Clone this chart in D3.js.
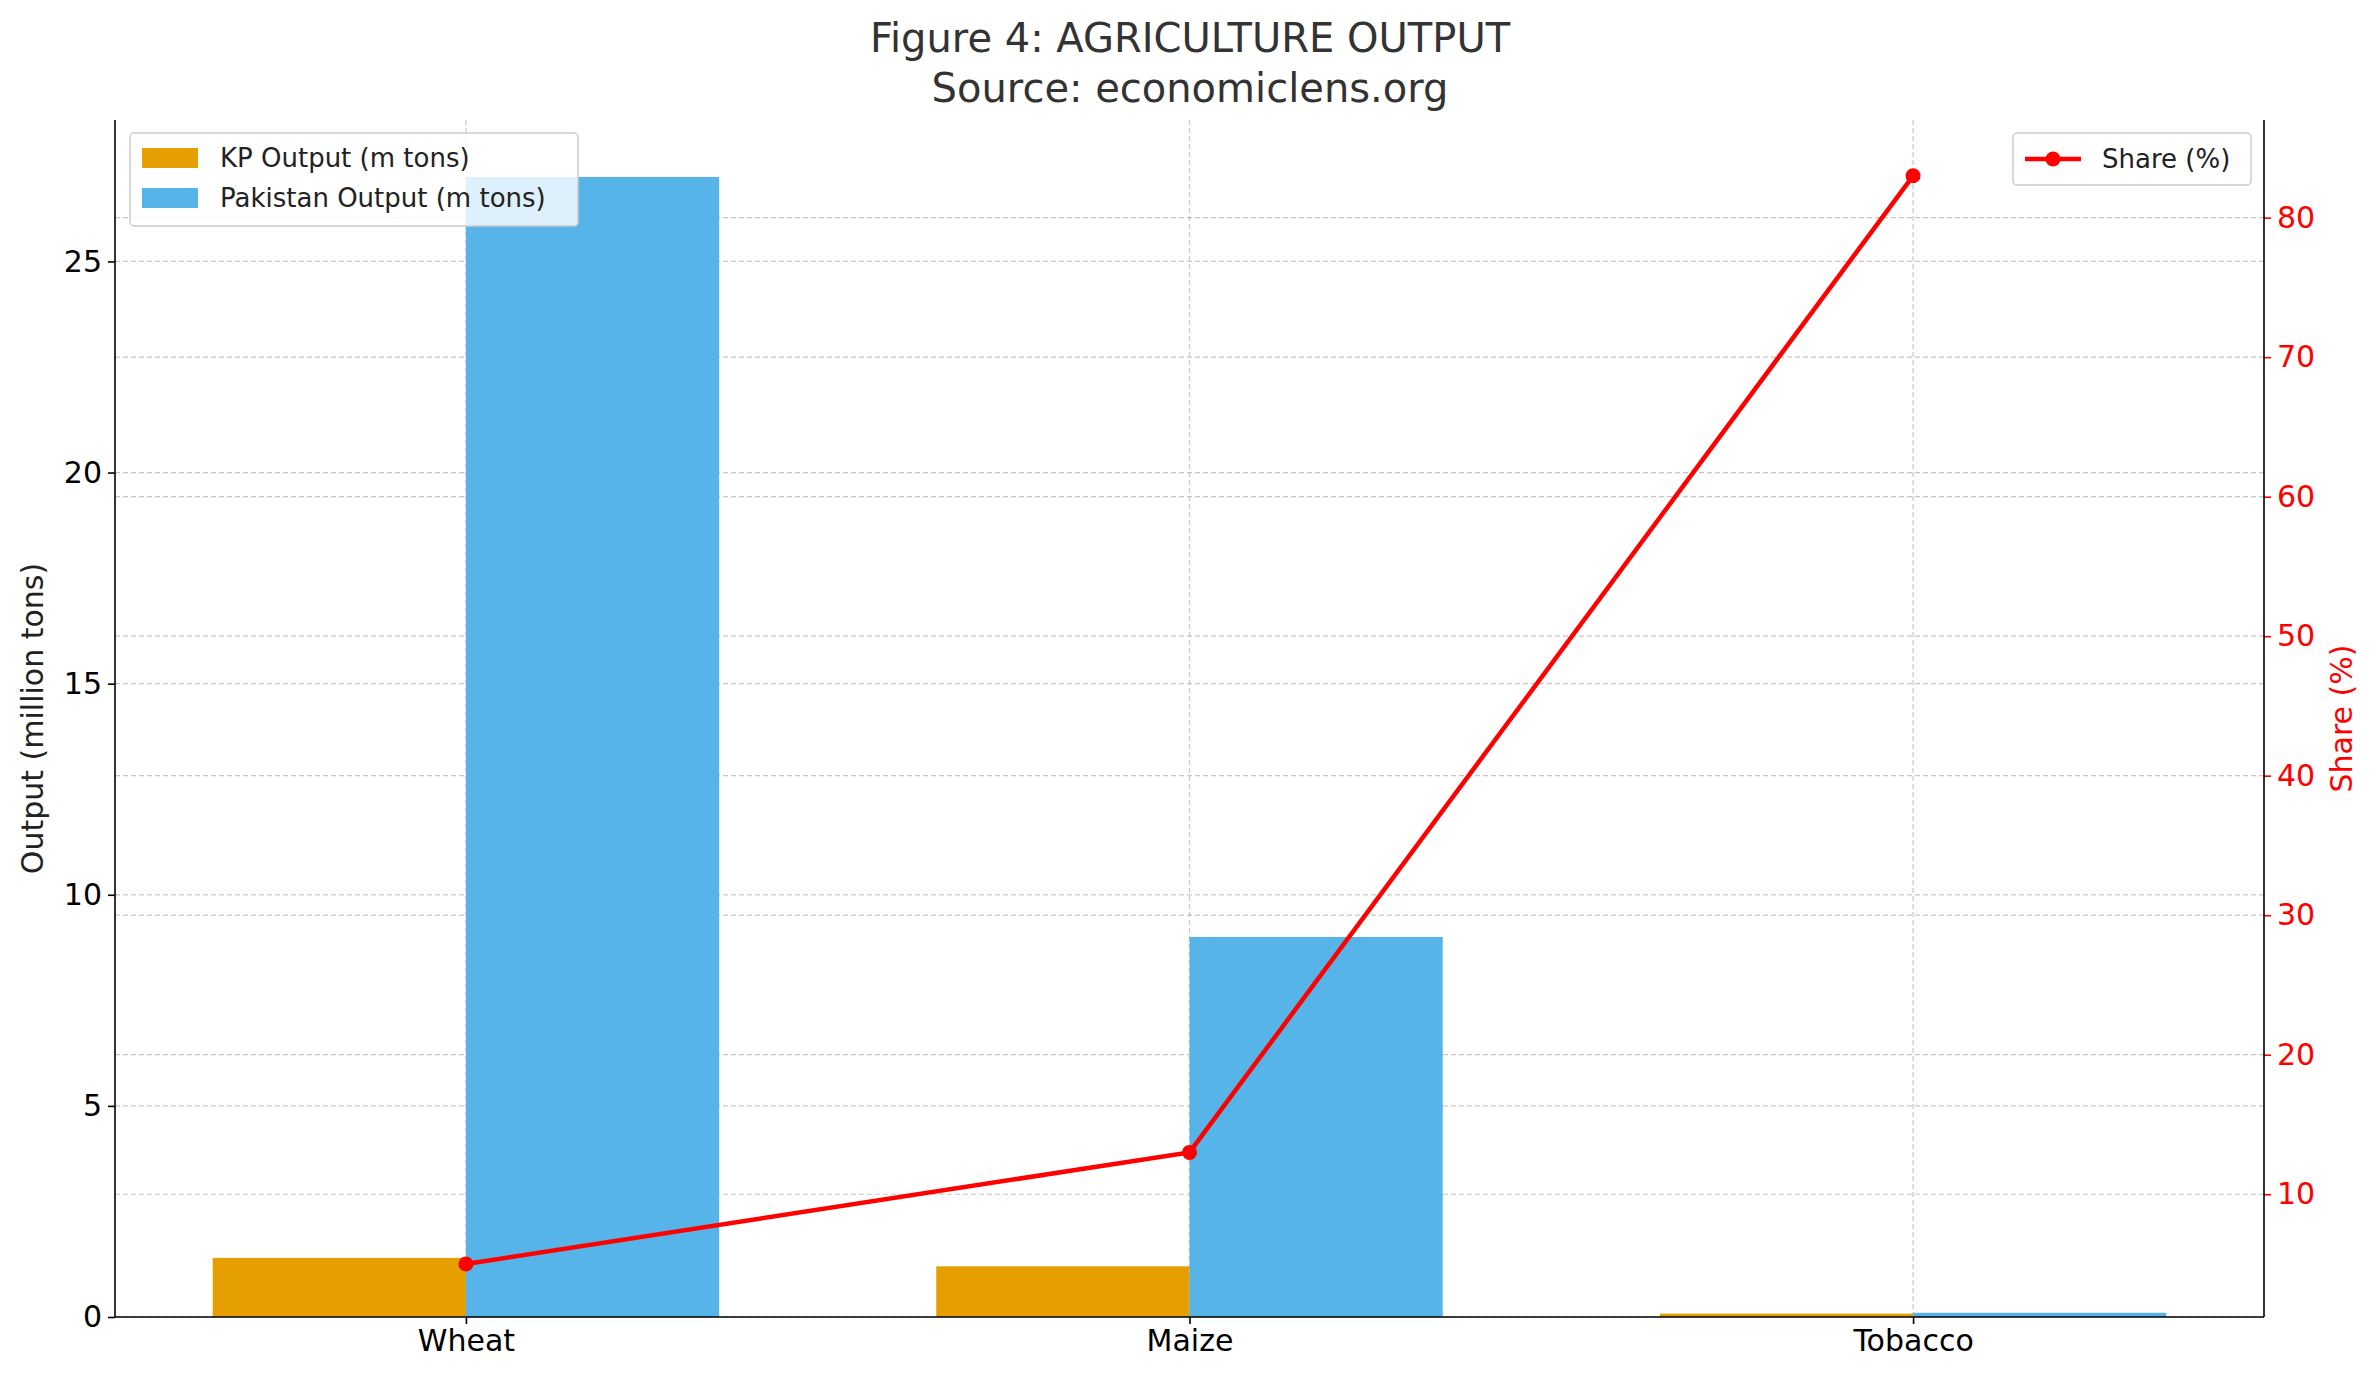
<!DOCTYPE html>
<html><head><meta charset="utf-8">
<script src="https://cdn.jsdelivr.net/npm/d3@7/dist/d3.min.js"></script>
<style>body{margin:0;background:#fff}text{font-family:"DejaVu Sans",sans-serif}</style>
</head><body><svg id="c" width="2379" height="1380"></svg>
<script>
const categories=["Wheat","Maize","Tobacco"];
const kpOutput=[1.4,1.2,0.08];
const pakOutput=[27,9,0.1];
const share=[5,13,83];
const leftTicks=[0,5,10,15,20,25];
const rightTicks=[10,20,30,40,50,60,70,80];

const svg=d3.select("#c");
const L=115,R=2264,T=120,B=1317;
const x=d3.scaleLinear().domain([-0.485,2.485]).range([L,R]);
const y=d3.scaleLinear().domain([0,28.35]).range([B,T]);
const y2=d3.scaleLinear().domain([1.2,87]).range([B,T]);
const bw=x(0.35)-x(0);
const red="#ff0000";

const g=svg.append("g");
// grids
g.selectAll(".gx").data(categories).join("line").attr("x1",(d,i)=>x(i)).attr("x2",(d,i)=>x(i)).attr("y1",T).attr("y2",B)
 .attr("stroke","#b0b0b0").attr("stroke-width",1.2).attr("stroke-dasharray","5,3").attr("opacity",0.7);
g.selectAll(".gy").data(leftTicks).join("line").attr("x1",L).attr("x2",R).attr("y1",d=>y(d)).attr("y2",d=>y(d))
 .attr("stroke","#b0b0b0").attr("stroke-width",1.2).attr("stroke-dasharray","5,3").attr("opacity",0.7);
g.selectAll(".gy2").data(rightTicks).join("line").attr("x1",L).attr("x2",R).attr("y1",d=>y2(d)).attr("y2",d=>y2(d))
 .attr("stroke","#b0b0b0").attr("stroke-width",1.2).attr("stroke-dasharray","5,3").attr("opacity",0.7);

// bars
g.selectAll(".kp").data(kpOutput).join("rect").attr("x",(d,i)=>x(i)-bw).attr("width",bw)
 .attr("y",d=>y(d)).attr("height",d=>B-y(d)).attr("fill","#E69F00");
g.selectAll(".pk").data(pakOutput).join("rect").attr("x",(d,i)=>x(i)).attr("width",bw)
 .attr("y",d=>y(d)).attr("height",d=>B-y(d)).attr("fill","#56B4E9");

// line
const line=d3.line().x((d,i)=>x(i)).y(d=>y2(d));
g.append("path").datum(share).attr("d",line).attr("fill","none").attr("stroke",red).attr("stroke-width",4.5);
g.selectAll(".pt").data(share).join("circle").attr("cx",(d,i)=>x(i)).attr("cy",d=>y2(d)).attr("r",7.5).attr("fill",red);

// axes
const fs=30;
const ax=svg.append("g").attr("transform",`translate(0,${B})`)
 .call(d3.axisBottom(d3.scaleLinear().domain(x.domain()).range(x.range())).tickValues([0,1,2]).tickFormat(i=>categories[i]).tickSize(7).tickPadding(6));
const ay=svg.append("g").attr("transform",`translate(${L},0)`).call(d3.axisLeft(y).tickValues(leftTicks).tickSize(7).tickPadding(6));
const ay2=svg.append("g").attr("transform",`translate(${R},0)`).call(d3.axisRight(y2).tickValues(rightTicks).tickSize(7).tickPadding(6));
[ax,ay,ay2].forEach(a=>{a.selectAll("text").attr("font-size",fs).attr("font-family","DejaVu Sans");a.select(".domain").remove();a.selectAll("line").attr("stroke-width",1.6);});
ay2.selectAll("text").attr("fill",red);ay2.selectAll("line").attr("stroke",red);
svg.append("line").attr("x1",L).attr("x2",L).attr("y1",T).attr("y2",B).attr("stroke","#000").attr("stroke-width",1.6);
svg.append("line").attr("x1",L).attr("x2",R).attr("y1",B).attr("y2",B).attr("stroke","#000").attr("stroke-width",1.6);
svg.append("line").attr("x1",R).attr("x2",R).attr("y1",T).attr("y2",B).attr("stroke","#000").attr("stroke-width",1.6);

// labels
svg.append("text").attr("transform",`translate(43,${(T+B)/2}) rotate(-90)`).attr("text-anchor","middle").attr("font-size",fs).attr("fill","#222").text("Output (million tons)");
svg.append("text").attr("transform",`translate(2352,${(T+B)/2}) rotate(-90)`).attr("text-anchor","middle").attr("font-size",fs).attr("fill",red).text("Share (%)");
svg.append("text").attr("x",1190).attr("y",52).attr("text-anchor","middle").attr("font-size",40).attr("fill","#333").text("Figure 4: AGRICULTURE OUTPUT");
svg.append("text").attr("x",1190).attr("y",102).attr("text-anchor","middle").attr("font-size",40).attr("fill","#333").text("Source: economiclens.org");

// legends
const lg=svg.append("g");
lg.append("rect").attr("x",130).attr("y",133).attr("width",448).attr("height",93).attr("rx",4).attr("fill","#fff").attr("fill-opacity",0.8).attr("stroke","#ccc").attr("stroke-width",1.5);
const items=[["KP Output (m tons)","#E69F00"],["Pakistan Output (m tons)","#56B4E9"]];
items.forEach((it,i)=>{
 lg.append("rect").attr("x",142).attr("y",148+i*40).attr("width",56).attr("height",20).attr("fill",it[1]);
 lg.append("text").attr("x",220).attr("y",167+i*40).attr("font-size",26).attr("fill","#222").text(it[0]);
});
lg.append("rect").attr("x",2013).attr("y",133).attr("width",238).attr("height",52).attr("rx",4).attr("fill","#fff").attr("fill-opacity",0.8).attr("stroke","#ccc").attr("stroke-width",1.5);
lg.append("line").attr("x1",2025).attr("x2",2081).attr("y1",159).attr("y2",159).attr("stroke",red).attr("stroke-width",4.5);
lg.append("circle").attr("cx",2053).attr("cy",159).attr("r",7.5).attr("fill",red);
lg.append("text").attr("x",2102).attr("y",168).attr("font-size",26).attr("fill","#222").text("Share (%)");
</script></body></html>
